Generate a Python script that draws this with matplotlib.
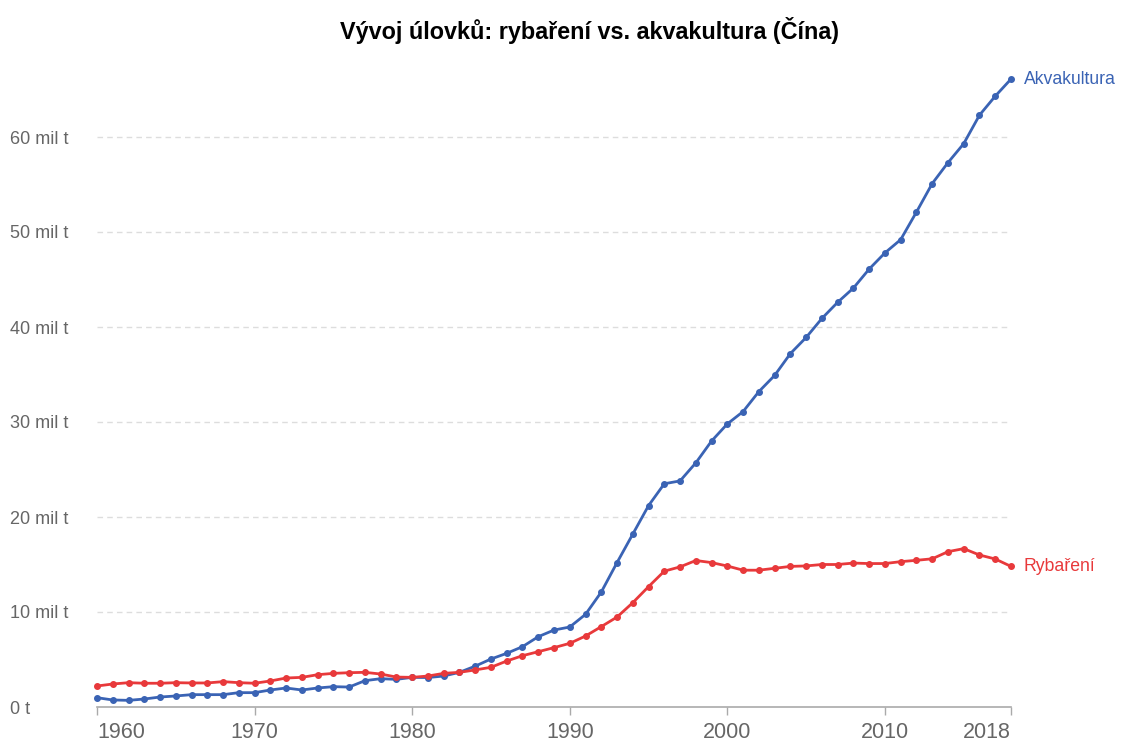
import matplotlib
matplotlib.use("Agg")
import matplotlib.pyplot as plt

plt.rcParams['font.family'] = ['Liberation Sans', 'DejaVu Sans']

years = list(range(1960, 2019))

# produkce v milionech tun
akvakultura = [0.98, 0.74, 0.70, 0.84, 1.05, 1.16, 1.30, 1.30, 1.30, 1.51,
               1.51, 1.79, 2.00, 1.79, 2.00, 2.14, 2.10, 2.77, 2.98, 2.91,
               3.12, 3.10, 3.26, 3.65, 4.30, 5.05, 5.65, 6.35, 7.40, 8.10,
               8.42, 9.75, 12.1, 15.2, 18.2, 21.2, 23.5, 23.8, 25.7, 28.0,
               29.8, 31.1, 33.2, 34.9, 37.2, 38.9, 40.9, 42.6, 44.1, 46.1,
               47.8, 49.2, 52.1, 55.1, 57.3, 59.3, 62.3, 64.3, 66.1]
rybareni = [2.21, 2.42, 2.56, 2.50, 2.50, 2.56, 2.53, 2.53, 2.67, 2.56,
            2.50, 2.74, 3.05, 3.12, 3.40, 3.54, 3.61, 3.65, 3.47, 3.15,
            3.12, 3.26, 3.54, 3.65, 3.90, 4.18, 4.84, 5.40, 5.82, 6.25,
            6.70, 7.47, 8.46, 9.47, 10.98, 12.67, 14.3, 14.75, 15.42, 15.2,
            14.84, 14.4, 14.4, 14.6, 14.8, 14.85, 15.0, 15.0, 15.15, 15.1,
            15.1, 15.3, 15.44, 15.6, 16.35, 16.67, 16.0, 15.58, 14.8]

y_ticks = [0, 10, 20, 30, 40, 50, 60]
y_labels = ['0 t', '10 mil t', '20 mil t', '30 mil t', '40 mil t', '50 mil t', '60 mil t']
x_ticks = [1960, 1970, 1980, 1990, 2000, 2010, 2018]

blue = '#3a63b4'
red = '#e8393b'

W, H = 1121, 742
fig = plt.figure(figsize=(W / 100, H / 100), dpi=100)
ax = fig.add_axes([97 / W, 35 / H, 914 / W, 646 / H])

ax.plot(years, akvakultura, color=blue, lw=2, marker='o', ms=4, clip_on=False, zorder=3)
ax.plot(years, rybareni, color=red, lw=2, marker='o', ms=4, clip_on=False, zorder=3)

ax.annotate('Akvakultura', (years[-1], akvakultura[-1]), xytext=(9, 0),
            textcoords='offset points', va='center', ha='left', color=blue, fontsize=12.7)
ax.annotate('Rybaření', (years[-1], rybareni[-1]), xytext=(9, 0),
            textcoords='offset points', va='center', ha='left', color=red, fontsize=12.7)

ax.set_xlim(1960, 2018)
ax.set_ylim(0, 68)

ax.set_yticks(y_ticks)
ax.set_yticklabels(y_labels)
for lab in ax.get_yticklabels():
    lab.set_horizontalalignment('left')
ax.tick_params(axis='y', length=0, pad=62.6, labelsize=13, labelcolor='#666666')

ax.set_xticks(x_ticks)
ax.set_xticklabels([str(x) for x in x_ticks])
ax.tick_params(axis='x', length=6, width=1, color='#aaaaaa', pad=5,
               labelsize=15.5, labelcolor='#666666')
xl = ax.get_xticklabels()
xl[0].set_horizontalalignment('left')
xl[-1].set_horizontalalignment('right')

for v in y_ticks[1:]:
    ax.axhline(v, color='#dddddd', lw=1, ls=(0, (4, 3)), zorder=1)

for s in ['top', 'right', 'left']:
    ax.spines[s].set_visible(False)
ax.spines['bottom'].set_color('#aaaaaa')
ax.spines['bottom'].set_linewidth(1.2)

fig.text(589.5 / W, 1 - 30 / H, 'Vývoj úlovků: rybaření vs. akvakultura (Čína)',
         ha='center', va='center', fontsize=16.8, fontweight='bold', color='black')

fig.savefig('out.png', dpi=100)
